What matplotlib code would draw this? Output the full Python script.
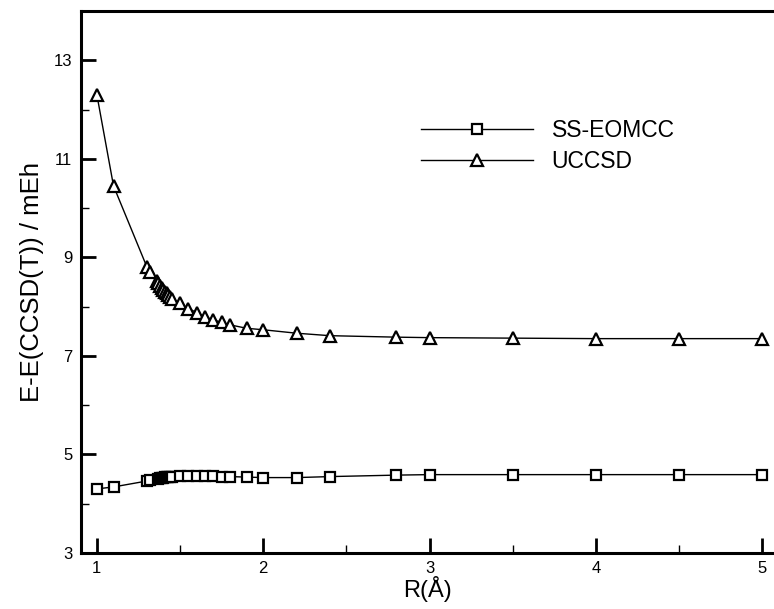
import matplotlib
matplotlib.use("Agg")
import matplotlib.pyplot as plt
from matplotlib.ticker import MultipleLocator

plt.rcParams['font.family'] = ['Liberation Sans', 'DejaVu Sans']

# bond length R (angstrom)
r_ss = [1.0, 1.1, 1.3, 1.32, 1.37, 1.38, 1.39, 1.40, 1.41, 1.42, 1.43, 1.44, 1.45,
        1.5, 1.55, 1.6, 1.65, 1.7, 1.75, 1.8, 1.9, 2.0, 2.2, 2.4, 2.8, 3.0, 3.5,
        4.0, 4.5, 5.0]
ss_eomcc = [4.30, 4.34, 4.46, 4.48, 4.51, 4.52, 4.53, 4.53, 4.54, 4.54, 4.55, 4.55, 4.55,
            4.56, 4.56, 4.56, 4.56, 4.56, 4.55, 4.55, 4.54, 4.53, 4.53, 4.55, 4.58, 4.59, 4.59,
            4.59, 4.59, 4.59]

r_uc = [1.0, 1.1, 1.3, 1.32, 1.36, 1.37, 1.38, 1.39, 1.40, 1.41, 1.42, 1.43, 1.44, 1.45,
        1.5, 1.55, 1.6, 1.65, 1.7, 1.75, 1.8, 1.9, 2.0, 2.2, 2.4, 2.8, 3.0, 3.5,
        4.0, 4.5, 5.0]
uccsd = [12.30, 10.45, 8.81, 8.71, 8.52, 8.47, 8.42, 8.38, 8.34, 8.30, 8.27, 8.23, 8.20, 8.16,
         8.07, 7.96, 7.88, 7.79, 7.73, 7.68, 7.63, 7.56, 7.53, 7.46, 7.41, 7.38, 7.37, 7.36,
         7.35, 7.35, 7.35]

fig = plt.figure(figsize=(7.74, 6.09), dpi=100)
ax = fig.add_axes([0.1043, 0.092, 0.8957, 0.890])

ax.plot(r_ss, ss_eomcc, color='black', lw=1.0, marker='s', ms=7.5, mfc='white',
        mec='black', mew=1.6, label='SS-EOMCC')
ax.plot(r_uc, uccsd, color='black', lw=1.0, marker='^', ms=9, mfc='white',
        mec='black', mew=1.6, label='UCCSD')

ax.set_xlim(0.903, 5.07)
ax.set_ylim(3, 14.0)
ax.xaxis.set_major_locator(MultipleLocator(1))
ax.xaxis.set_minor_locator(MultipleLocator(0.5))
ax.yaxis.set_minor_locator(MultipleLocator(1))
ax.set_yticks([3, 5, 7, 9, 11, 13])
ax.tick_params(which='major', direction='in', length=11, width=2, labelsize=12,
               top=False, right=False, pad=6)
ax.tick_params(which='minor', direction='in', length=6, width=1,
               top=False, right=False)

for side in ['left', 'bottom', 'top']:
    ax.spines[side].set_linewidth(2.2)
ax.spines['right'].set_visible(False)

ax.set_xlabel('R(Å)', fontsize=17, labelpad=0)
ax.set_ylabel('E-E(CCSD(T)) / mEh', fontsize=18.5, labelpad=7)

ax.legend(loc='upper left', bbox_to_anchor=(0.491, 0.80), frameon=False,
          fontsize=16.5, handlelength=4.9, handletextpad=0.8, labelspacing=0.35,
          borderpad=0, borderaxespad=0)

fig.savefig('out.png', dpi=100)
